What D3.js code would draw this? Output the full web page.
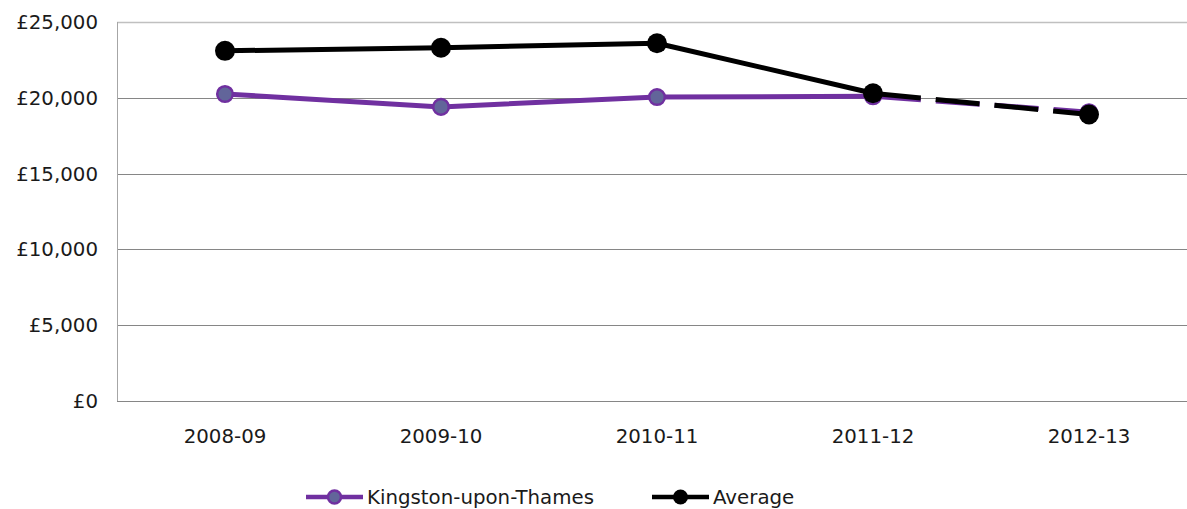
<!doctype html>
<html>
  <head>
    <meta charset="utf-8">
    <title>Kingston-upon-Thames vs Average</title>
    <script src="https://d3js.org/d3.v7.min.js"></script>
    <style type="text/css">
      body { margin: 0; background: #fff; }
      text {
        font-family: "DejaVu Sans", sans-serif;
        font-size: 19.8px;
        fill: #1a1a1a;
      }
    </style>
  </head>
  <body>
    <svg></svg>
    <script type="text/javascript">
      var years = ['2008-09', '2009-10', '2010-11', '2011-12', '2012-13'];
      var kingston = [20250, 19400, 20050, 20100, 19050];
      var average = [23100, 23300, 23600, 20300, 18900];
      var yTicks = [0, 5000, 10000, 15000, 20000, 25000];
      var seriesNames = ['Kingston-upon-Thames', 'Average'];

      var w = 1187,
        h = 509;
      var pLeft = 117, pRight = 1197, pTop = 22, pBottom = 401;

      var svg = d3.select('svg')
        .attr('width', w)
        .attr('height', h);

      var xScale = d3.scaleBand()
        .domain(years)
        .range([pLeft, pRight]);
      var yScale = d3.scaleLinear()
        .domain([0, 25000])
        .range([pBottom, pTop]);

      function cx(d, i) { return xScale(years[i]) + xScale.bandwidth() / 2; }

      // gridlines
      svg.selectAll('line.grid')
        .data(yTicks)
        .enter()
        .append('line')
        .attr('class', 'grid')
        .attr('x1', pLeft)
        .attr('x2', w)
        .attr('y1', function(d) { return Math.round(yScale(d)) + 0.5; })
        .attr('y2', function(d) { return Math.round(yScale(d)) + 0.5; })
        .attr('stroke', function(d) { return d === 25000 ? '#c0c0c0' : '#868686'; })
        .attr('stroke-width', function(d) { return d === 25000 ? 1.5 : 1; });

      svg.append('line')
        .attr('x1', pLeft + 0.5).attr('x2', pLeft + 0.5)
        .attr('y1', pTop).attr('y2', pBottom)
        .attr('stroke', '#a6a6a6');

      // y labels
      var fmt = d3.format(',');
      svg.selectAll('text.ylab')
        .data(yTicks)
        .enter()
        .append('text')
        .attr('class', 'ylab')
        .attr('x', 98)
        .attr('y', function(d) { return yScale(d) + 7; })
        .attr('text-anchor', 'end')
        .text(function(d) { return '£' + fmt(d); });

      // x labels
      svg.selectAll('text.xlab')
        .data(years)
        .enter()
        .append('text')
        .attr('class', 'xlab')
        .attr('x', function(d) { return xScale(d) + xScale.bandwidth() / 2; })
        .attr('y', 443)
        .attr('text-anchor', 'middle')
        .text(function(d) { return d; });

      function drawSeries(vals, color, width) {
        var pts = vals.map(function(v, i) { return [cx(v, i), yScale(v)]; });
        var line = d3.line();
        svg.append('path')
          .attr('d', line(pts.slice(0, 4)))
          .attr('fill', 'none')
          .attr('stroke', color)
          .attr('stroke-width', width)
          .attr('stroke-linejoin', 'round');
        svg.append('path')
          .attr('d', line(pts.slice(3)))
          .attr('fill', 'none')
          .attr('stroke', color)
          .attr('stroke-width', width)
          .attr('stroke-dasharray', '44,15')
          .attr('stroke-dashoffset', -4);
      }

      drawSeries(kingston, '#7030a0', 5);
      svg.selectAll('circle.k')
        .data(kingston)
        .enter()
        .append('circle')
        .attr('class', 'k')
        .attr('cx', cx)
        .attr('cy', function(d) { return yScale(d); })
        .attr('r', 7.8)
        .attr('fill', '#62659a')
        .attr('stroke', '#7030a0')
        .attr('stroke-width', 2.5);

      drawSeries(average, '#000', 5);
      svg.selectAll('circle.a')
        .data(average)
        .enter()
        .append('circle')
        .attr('class', 'a')
        .attr('cx', cx)
        .attr('cy', function(d) { return yScale(d); })
        .attr('r', 10)
        .attr('fill', '#000');

      // legend
      var legend = [
        { name: seriesNames[0], x: 306, color: '#7030a0', fill: '#62659a', r: 6.5, sw: 2.5 },
        { name: seriesNames[1], x: 652, color: '#000', fill: '#000', r: 7.5, sw: 0 }
      ];
      var lg = svg.selectAll('g.leg')
        .data(legend)
        .enter()
        .append('g')
        .attr('class', 'leg')
        .attr('transform', function(d) { return 'translate(' + d.x + ',497)'; });
      lg.append('line')
        .attr('x1', 0).attr('x2', 57)
        .attr('stroke', function(d) { return d.color; })
        .attr('stroke-width', 4.5);
      lg.append('circle')
        .attr('cx', 28.5)
        .attr('r', function(d) { return d.r; })
        .attr('fill', function(d) { return d.fill; })
        .attr('stroke', function(d) { return d.color; })
        .attr('stroke-width', function(d) { return d.sw; });
      lg.append('text')
        .attr('x', 61)
        .attr('y', 7)
        .text(function(d) { return d.name; });
    </script>
  </body>
</html>
